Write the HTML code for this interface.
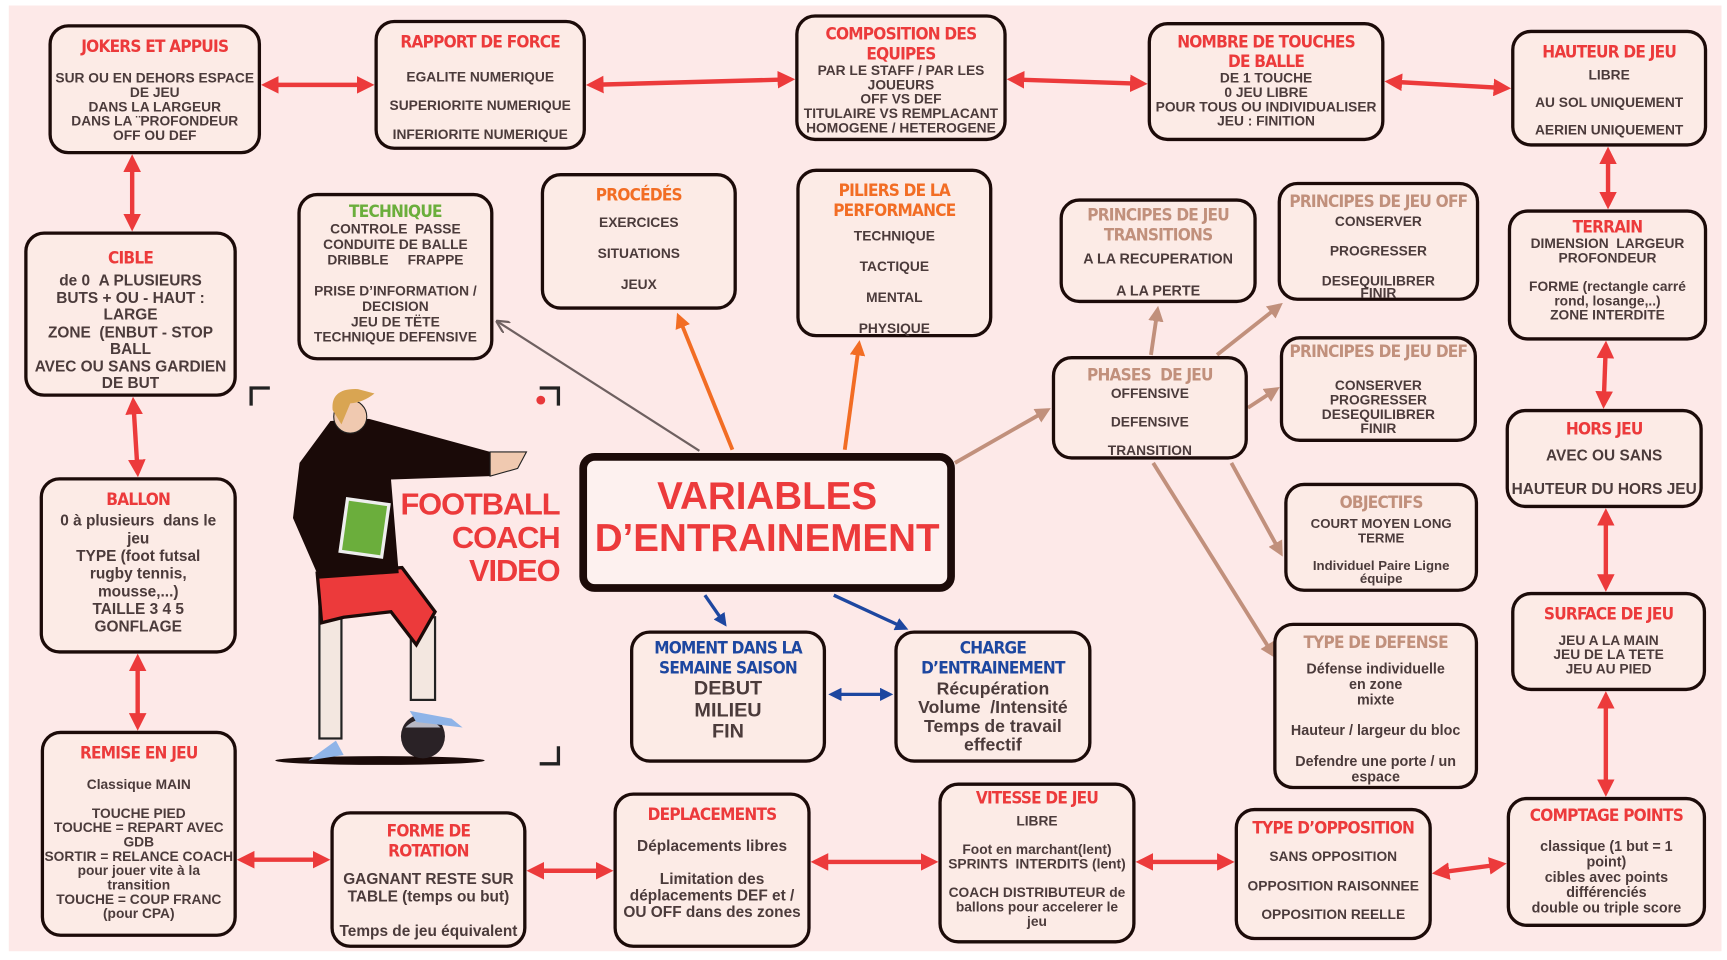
<!DOCTYPE html>
<html><head><meta charset="utf-8"><style>
html,body{margin:0;padding:0;background:#fff;width:1727px;height:960px;overflow:hidden}
#w{position:absolute;left:0;top:0;width:1568px;height:871px;transform:scale(1.1014,1.1022);transform-origin:0 0}
#bg{position:absolute;left:8px;top:5px;width:1555px;height:858px;background:#fde9e8}
.b{position:absolute;box-sizing:border-box;border:3px solid #1c0b09;border-radius:18px;background:#fcebe6;text-align:center;font-family:"Liberation Sans",sans-serif;font-weight:bold;color:#4b3b3b;font-size:12.5px;line-height:13px;padding-top:8px}
.h{font-family:"Liberation Sans Narrow","DejaVu Sans Condensed","Liberation Sans",sans-serif;font-weight:bold;color:#ec3a3b;font-size:15.5px;line-height:18px;letter-spacing:-0.7px;white-space:nowrap}
.o{color:#f26d24}.g{color:#6bae3c}.bl{color:#1d47a0}.br{color:#c1907c}
svg{position:absolute;left:0;top:0}
</style></head><body><div id="w"><div id="bg"></div>
<svg width="1568" height="871">
<defs>
<marker id="r" markerWidth="4" markerHeight="4" refX="3" refY="2" orient="auto-start-reverse" markerUnits="strokeWidth"><path d="M0,0L4,2L0,4z" fill="#ec3a3b"/></marker>
<marker id="u" markerWidth="4" markerHeight="4" refX="3" refY="2" orient="auto-start-reverse" markerUnits="strokeWidth"><path d="M0,0L4,2L0,4z" fill="#1d47a0"/></marker>
<marker id="o" markerWidth="4" markerHeight="4" refX="3" refY="2" orient="auto" markerUnits="strokeWidth"><path d="M0,0L4,2L0,4z" fill="#f26d24"/></marker>
<marker id="n" markerWidth="4" markerHeight="4" refX="3" refY="2" orient="auto" markerUnits="strokeWidth"><path d="M0,0L4,2L0,4z" fill="#c1907c"/></marker>
<marker id="y" markerWidth="6" markerHeight="6" refX="5" refY="3" orient="auto" markerUnits="strokeWidth"><path d="M0,0L6,3L0,6" fill="none" stroke="#6e6060"/></marker>
</defs>
<g stroke="#ec3a3b" stroke-width="4" marker-start="url(#r)" marker-end="url(#r)" fill="none">
<line x1="241" y1="77" x2="336" y2="77"/><line x1="536" y1="77" x2="718" y2="72"/><line x1="918" y1="72" x2="1038" y2="76"/><line x1="1261" y1="74" x2="1368" y2="80"/>
<line x1="120" y1="144" x2="120" y2="206"/><line x1="121" y1="364" x2="125" y2="429"/><line x1="125" y1="597" x2="125" y2="659"/>
<line x1="219" y1="780" x2="296" y2="780"/><line x1="482" y1="790" x2="553" y2="790"/><line x1="740" y1="782" x2="848" y2="782"/><line x1="1035" y1="782" x2="1117" y2="782"/><line x1="1304" y1="792" x2="1364" y2="784"/>
<line x1="1460" y1="137" x2="1460" y2="186"/><line x1="1458" y1="313" x2="1456" y2="367"/><line x1="1458" y1="465" x2="1458" y2="533"/><line x1="1458" y1="631" x2="1458" y2="719"/>
</g>
<g stroke="#1d47a0" stroke-width="3" fill="none">
<line x1="640" y1="540" x2="658" y2="566" marker-end="url(#u)"/><line x1="757" y1="540" x2="822" y2="570" marker-end="url(#u)"/>
<line x1="755" y1="630" x2="808" y2="630" marker-start="url(#u)" marker-end="url(#u)"/></g>
<g stroke="#f26d24" stroke-width="3.5" fill="none"><line x1="665" y1="408" x2="616" y2="287" marker-end="url(#o)"/><line x1="767" y1="408" x2="780" y2="312" marker-end="url(#o)"/></g>
<line x1="635" y1="409" x2="452" y2="292" stroke="#6e6060" stroke-width="2" marker-end="url(#y)"/>
<g stroke="#c1907c" stroke-width="3.5" fill="none" marker-end="url(#n)">
<line x1="867" y1="420" x2="951" y2="372"/><line x1="1045" y1="322" x2="1051" y2="281"/><line x1="1105" y1="322" x2="1162" y2="277"/><line x1="1133" y1="370" x2="1159" y2="353"/><line x1="1118" y1="420" x2="1163" y2="502"/><line x1="1047" y1="420" x2="1156" y2="594"/>
</g>
<g stroke="#222" stroke-width="3" fill="none"><path d="M228,368V352H245"/><path d="M490,352H507V368"/><path d="M490,693H507V677"/></g>
<circle cx="491" cy="363" r="4" fill="#e8383a"/>
<!-- coach -->
<ellipse cx="345" cy="690" rx="95" ry="4" fill="#1a0a08"/>
<circle cx="384" cy="668" r="20" fill="#2a2226"/><path d="M368,660Q384,645 400,660" fill="#b8b8c4"/>
<rect x="290" y="535" width="20" height="135" fill="#f3e7e0" stroke="#222" stroke-width="2"/>
<rect x="373" y="560" width="22" height="75" fill="#f3e7e0" stroke="#222" stroke-width="2"/>
<path d="M288,520L365,515L395,555L378,585L355,555L312,560L292,565z" fill="#ec3a3b" stroke="#1a0a08" stroke-width="3"/>
<path d="M300,382L335,380L445,410L445,432L355,435L362,520L290,525L266,470L272,420z" fill="#1a0a08"/>
<path d="M445,410L478,410L470,425L445,432z" fill="#f0c9b0" stroke="#222"/>
<rect x="312" y="455" width="38" height="48" fill="#6bae3c" stroke="#eee" stroke-width="3" transform="rotate(8 331 479)"/>
<circle cx="318" cy="378" r="15" fill="#f0c9b0" stroke="#222"/><path d="M302,372Q300,352 325,353L340,357Q330,365 318,366L310,385z" fill="#d9a552"/>
<path d="M280,690L305,672L312,685z" fill="#8fb4e8"/><path d="M372,645L410,652L420,660L378,655z" fill="#8fb4e8"/>
</svg>
<div style="position:absolute;left:340px;top:443px;width:168px;text-align:right;font-family:'Liberation Sans',sans-serif;font-weight:bold;color:#ec3a3b;font-size:28px;line-height:30px;letter-spacing:-1px">FOOTBALL<br>COACH<br>VIDEO</div>

<div class="b" style="left:44px;top:22px;width:193px;height:118px"><div class="h">JOKERS ET APPUIS</div><div style="margin-top:14px">SUR OU EN DEHORS ESPACE<br>DE JEU<br>DANS LA LARGEUR<br>DANS LA ¨PROFONDEUR<br>OFF OU DEF</div></div>
<div class="b" style="left:340px;top:18px;width:192px;height:118px"><div class="h">RAPPORT DE FORCE</div><div style="margin-top:10px;line-height:26px">EGALITE NUMERIQUE<br>SUPERIORITE NUMERIQUE<br>INFERIORITE NUMERIQUE</div></div>
<div class="b" style="left:722px;top:13px;width:192px;height:115px;padding-top:6px"><div class="h">COMPOSITION DES<br>EQUIPES</div><div>PAR LE STAFF / PAR LES<br>JOUEURS<br>OFF VS DEF<br>TITULAIRE VS REMPLACANT<br>HOMOGENE / HETEROGENE</div></div>
<div class="b" style="left:1042px;top:20px;width:215px;height:108px;padding-top:6px"><div class="h">NOMBRE DE TOUCHES<br>DE BALLE</div><div>DE 1 TOUCHE<br>0 JEU LIBRE<br>POUR TOUS OU INDIVIDUALISER<br>JEU : FINITION</div></div>
<div class="b" style="left:1372px;top:27px;width:178px;height:106px"><div class="h">HAUTEUR DE JEU</div><div style="line-height:25px">LIBRE<br>AU SOL UNIQUEMENT<br>AERIEN UNIQUEMENT</div></div>
<div class="b" style="left:22px;top:210px;width:193px;height:150px;font-size:14px;line-height:15.5px;padding-top:12px"><div class="h">CIBLE</div><div style="margin-top:4px">de 0 &nbsp;A PLUSIEURS<br>BUTS + OU - HAUT :<br>LARGE<br>ZONE &nbsp;(ENBUT - STOP<br>BALL<br>AVEC OU SANS GARDIEN<br>DE BUT</div></div>
<div class="b" style="left:270px;top:175px;width:178px;height:152px;padding-top:5px"><div class="h g">TECHNIQUE</div><div style="line-height:14px">CONTROLE &nbsp;PASSE<br>CONDUITE DE BALLE<br>DRIBBLE &nbsp;&nbsp;&nbsp;&nbsp;FRAPPE<br><br>PRISE D’INFORMATION /<br>DECISION<br>JEU DE TËTE<br>TECHNIQUE DEFENSIVE</div></div>
<div class="b" style="left:491px;top:157px;width:178px;height:124px"><div class="h o">PROCÉDÉS</div><div style="line-height:28px;margin-top:2px">EXERCICES<br>SITUATIONS<br>JEUX</div></div>
<div class="b" style="left:723px;top:153px;width:178px;height:153px"><div class="h o">PILIERS DE LA<br>PERFORMANCE</div><div style="line-height:28px;margin-top:0px">TECHNIQUE<br>TACTIQUE<br>MENTAL<br>PHYSIQUE</div></div>
<div class="b" style="left:962px;top:180px;width:179px;height:95px;padding-top:3px;font-size:13px"><div class="h br">PRINCIPES DE JEU<br>TRANSITIONS</div><div style="line-height:29px;margin-top:-2px">A LA RECUPERATION<br>A LA PERTE</div></div>
<div class="b" style="left:1160px;top:165px;width:183px;height:108px;padding-top:6px"><div class="h br">PRINCIPES DE JEU OFF</div><div style="line-height:27px;margin-top:-4px">CONSERVER<br>PROGRESSER<br>DESEQUILIBRER</div><div style="margin-top:-9px">FINIR</div></div>
<div class="b" style="left:1369px;top:190px;width:181px;height:119px;padding-top:4px"><div class="h">TERRAIN</div><div>DIMENSION &nbsp;LARGEUR<br>PROFONDEUR<br><br>FORME (rectangle carré<br>rond, losange,..)<br>ZONE INTERDITE</div></div>
<div class="b" style="left:955px;top:323px;width:178px;height:94px;padding-top:5px"><div class="h br">PHASES &nbsp;DE JEU</div><div style="line-height:26px;margin-top:-5px">OFFENSIVE<br>DEFENSIVE<br>TRANSITION</div></div>
<div class="b" style="left:1162px;top:305px;width:179px;height:96px;padding-top:2px"><div class="h br">PRINCIPES DE JEU DEF</div><div style="margin-top:16px">CONSERVER<br>PROGRESSER<br>DESEQUILIBRER<br>FINIR</div></div>
<div class="b" style="left:1367px;top:371px;width:179px;height:90px;font-size:14px;padding-top:6px"><div class="h">HORS JEU</div><div style="line-height:30px">AVEC OU SANS<br>HAUTEUR DU HORS JEU</div></div>
<div class="b" style="left:36px;top:433px;width:179px;height:160px;font-size:14px;line-height:16px"><div class="h">BALLON</div><div style="margin-top:2px">0 à plusieurs &nbsp;dans le<br>jeu<br>TYPE (foot futsal<br>rugby tennis,<br>mousse,...)<br>TAILLE 3 4 5<br>GONFLAGE</div></div>
<div class="b" style="left:526px;top:411px;width:341px;height:126px;border-width:7px;border-radius:14px;background:#fdf1ef;padding-top:14px"><div style="font-size:35px;line-height:38px;color:#ec3a3b;font-weight:bold">VARIABLES<br>D’ENTRAINEMENT</div></div>
<div class="b" style="left:1166px;top:438px;width:176px;height:99px;padding-top:6px;font-size:12px;line-height:12.5px"><div class="h br">OBJECTIFS</div><div style="margin-top:4px">COURT MOYEN LONG<br>TERME<br><br>Individuel Paire Ligne<br>équipe</div></div>
<div class="b" style="left:1372px;top:537px;width:177px;height:90px"><div class="h">SURFACE DE JEU</div><div style="margin-top:9px">JEU A LA MAIN<br>JEU DE LA TETE<br>JEU AU PIED</div></div>
<div class="b" style="left:572px;top:572px;width:178px;height:120px;padding-top:4px;font-size:18px;line-height:19.5px"><div class="h bl">MOMENT DANS LA<br>SEMAINE SAISON</div><div>DEBUT<br>MILIEU<br>FIN</div></div>
<div class="b" style="left:812px;top:572px;width:179px;height:120px;padding-top:4px;font-size:16px;line-height:17px"><div class="h bl">CHARGE<br>D’ENTRAINEMENT</div><div style="margin-top:2px">Récupération<br>Volume &nbsp;/Intensité<br>Temps de travail<br>effectif</div></div>
<div class="b" style="left:1156px;top:565px;width:186px;height:151px;font-size:13px;line-height:14px;padding-top:6px"><div class="h br">TYPE DE DEFENSE</div><div style="margin-top:8px">Défense individuelle<br>en zone<br>mixte<br><br>Hauteur / largeur du bloc<br><br>Defendre une porte / un<br>espace</div></div>
<div class="b" style="left:37px;top:663px;width:178px;height:187px;font-size:12.5px"><div class="h">REMISE EN JEU</div><div style="margin-top:14px">Classique MAIN<br><br>TOUCHE PIED<br>TOUCHE = REPART AVEC<br>GDB<br>SORTIR = RELANCE COACH<br>pour jouer vite à la<br>transition<br>TOUCHE = COUP FRANC<br>(pour CPA)</div></div>
<div class="b" style="left:300px;top:736px;width:178px;height:124px;font-size:14px;line-height:15.5px;padding-top:6px"><div class="h">FORME DE<br>ROTATION</div><div style="margin-top:9px">GAGNANT RESTE SUR<br>TABLE (temps ou but)<br><br>Temps de jeu équivalent</div></div>
<div class="b" style="left:557px;top:719px;width:179px;height:141px;font-size:14px;line-height:15px"><div class="h">DEPLACEMENTS</div><div style="margin-top:12px">Déplacements libres<br><br>Limitation des<br>déplacements DEF et /<br>OU OFF dans des zones</div></div>
<div class="b" style="left:852px;top:710px;width:179px;height:146px;padding-top:2px"><div class="h">VITESSE DE JEU</div><div style="margin-top:6px">LIBRE<br><br>Foot en marchant(lent)<br>SPRINTS &nbsp;INTERDITS (lent)<br><br>COACH DISTRIBUTEUR de<br>ballons pour accelerer le<br>jeu</div></div>
<div class="b" style="left:1121px;top:733px;width:179px;height:120px;padding-top:6px"><div class="h">TYPE D’OPPOSITION</div><div style="line-height:26.5px;margin-top:4px">SANS OPPOSITION<br>OPPOSITION RAISONNEE<br>OPPOSITION REELLE</div></div>
<div class="b" style="left:1368px;top:723px;width:181px;height:118px;font-size:13px;line-height:14px;padding-top:5px"><div class="h">COMPTAGE POINTS</div><div style="margin-top:12px">classique (1 but = 1<br>point)<br>cibles avec points<br>différenciés<br>double ou triple score</div></div>
</div></body></html>
